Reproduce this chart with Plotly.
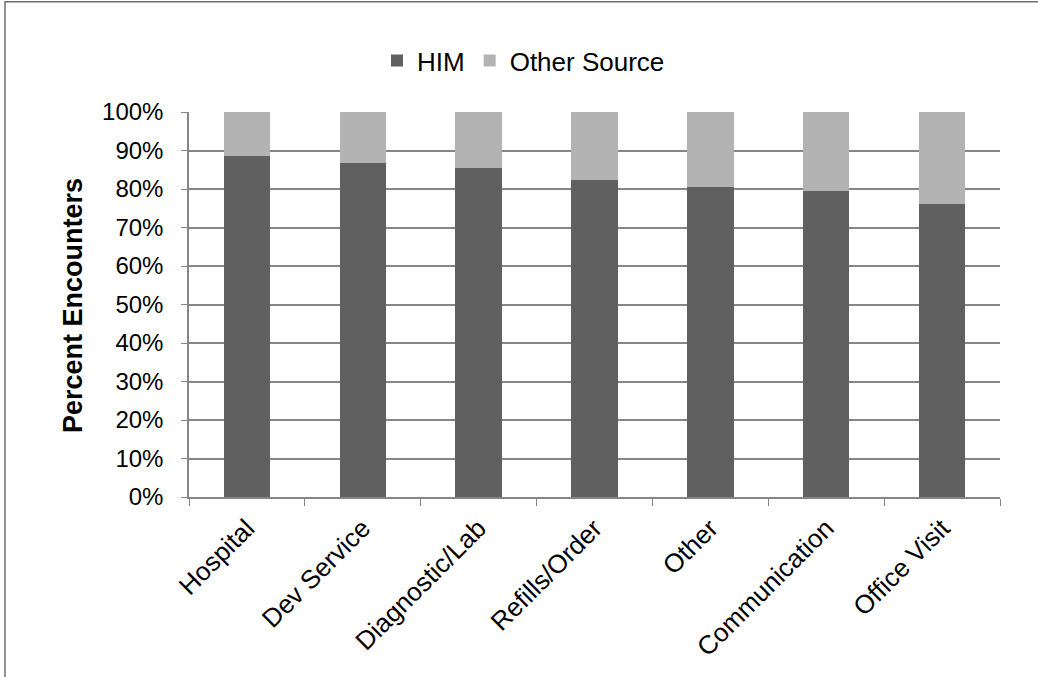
import plotly.graph_objects as go

categories = ["Hospital", "Dev Service", "Diagnostic/Lab", "Refills/Order",
              "Other", "Communication", "Office Visit"]
him = [88.5, 86.7, 85.4, 82.3, 80.4, 79.5, 76.1]
other_source = [round(100 - v, 1) for v in him]
y_ticks = list(range(0, 101, 10))
y_tick_labels = [f"{v}%" for v in y_ticks]

W, H = 1038, 677
L, R, T, B = 189, 38, 111.5, 179.5
pw, ph = W - L - R, H - T - B

def px_x(p):
    return (p - L) / pw

def px_y(p):
    return (H - B - p) / ph

FONT = "Liberation Sans, Arial, sans-serif"
GRID = "#868686"

fig = go.Figure()
fig.add_trace(go.Bar(x=categories, y=him, name="HIM", marker_color="#606060",
                     marker_line_width=0))
fig.add_trace(go.Bar(x=categories, y=other_source, name="Other Source",
                     marker_color="#b3b3b3", marker_line_width=0))

fig.update_layout(
    width=W, height=H,
    margin=dict(l=L, r=R, t=T, b=B, autoexpand=False),
    barmode="stack", bargap=0.6,
    plot_bgcolor="white", paper_bgcolor="white",
    font=dict(family=FONT, size=24, color="black"),
    showlegend=True,
    legend=dict(orientation="h", x=px_x(377), xanchor="left", y=px_y(60), yanchor="middle",
                font=dict(size=26), itemwidth=30, traceorder="normal",
                bgcolor="rgba(0,0,0,0)"),
    xaxis=dict(type="category", tickson="boundaries", ticks="outside", ticklen=7,
               tickcolor=GRID, showline=True, linecolor=GRID, linewidth=1.5,
               showgrid=False, tickangle=-45, tickfont=dict(size=26),
               ticklabelstandoff=4,
               range=[-0.5, len(categories) - 0.5]),
    yaxis=dict(range=[0, 100], tickvals=y_ticks, ticktext=y_tick_labels,
               ticks="outside", ticklen=6, tickcolor=GRID, showline=True,
               linecolor=GRID, linewidth=1.5, showgrid=True, gridcolor=GRID,
               gridwidth=1.5, tickfont=dict(size=24), zeroline=False,
               ticklabelstandoff=13),
    annotations=[dict(text="<b>Percent Encounters</b>", xref="paper", yref="paper",
                      x=px_x(73), y=px_y(306), xanchor="center", yanchor="middle",
                      textangle=-90, showarrow=False,
                      font=dict(size=27, family=FONT, color="black"))],
    shapes=[dict(type="rect", xref="paper", yref="paper",
                 x0=px_x(5), x1=px_x(1080), y0=px_y(720), y1=px_y(1),
                 line=dict(color="#6f6f6f", width=1.5), fillcolor="rgba(0,0,0,0)",
                 layer="above")],
)

fig.write_html("out.html", config={"displayModeBar": False},
               post_script="document.body.style.margin='0';")
